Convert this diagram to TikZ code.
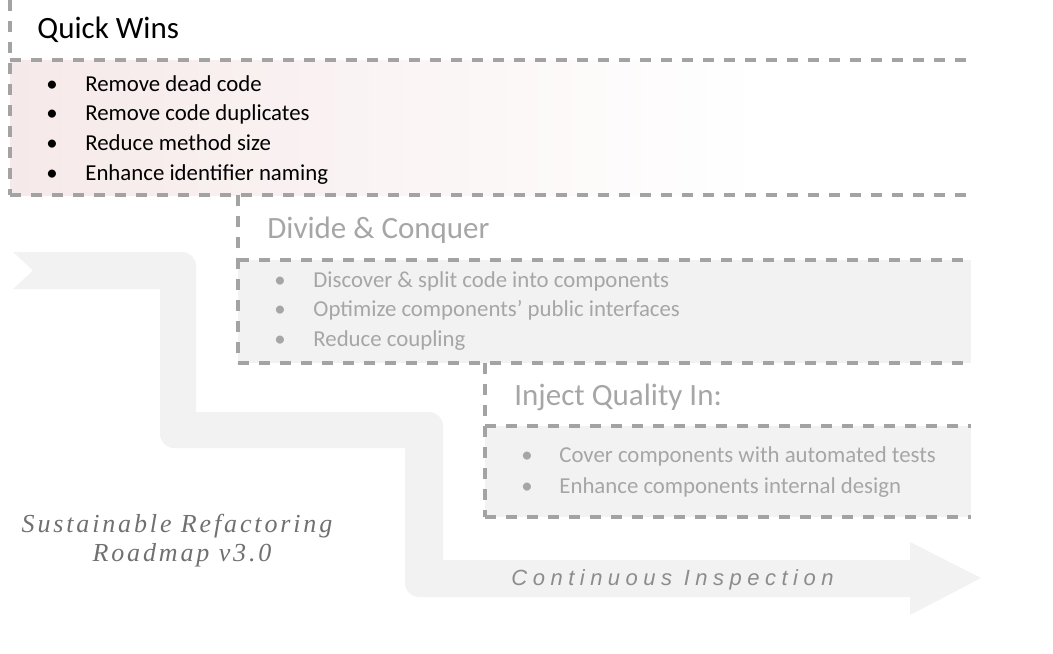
\documentclass[tikz,border=0pt]{standalone}
\usepackage{fontspec}
\setmainfont{Carlito}
\newfontfamily\roadfont[LetterSpace=11]{Liberation Serif Italic}
\newfontfamily\inspfont[LetterSpace=25]{Liberation Sans Italic}
\usepackage{tikz}
\usetikzlibrary{positioning}

\definecolor{dashgray}{HTML}{A3A3A3}
\definecolor{textgray}{HTML}{A6A6A6}
\definecolor{panelgray}{HTML}{F2F2F2}
\definecolor{qwpink}{HTML}{F6E9E9}
\definecolor{roadgray}{HTML}{707070}
\definecolor{inspgray}{HTML}{8C8C8C}

\tikzset{
  dashline/.style={draw=dashgray, line width=1.6pt, dash pattern=on 5.5pt off 5pt},
  header/.style={anchor=base west, inner sep=0pt, font=\fontsize{15.5}{18}\selectfont},
  item/.style={anchor=base west, inner sep=0pt, font=\fontsize{11.4}{14}\selectfont},
}

\begin{document}
\begin{tikzpicture}[x=0.5pt, y=-0.5pt]
    \useasboundingbox (0,0) rectangle (1053,653);

    % Draw the roadmap arrow
    \fill[panelgray] (13,252) -- (182,252) arc[start angle=-90, end angle=0, radius=14]
      -- (196,412) -- (429,412) arc[start angle=-90, end angle=0, radius=14]
      -- (443,560) -- (910,560) -- (910,542) -- (981,578) -- (910,615) -- (910,597)
      -- (419,597) arc[start angle=90, end angle=180, radius=14]
      -- (405,448) -- (174,448) arc[start angle=90, end angle=180, radius=14]
      -- (160,289) -- (13,289) -- (33,270.5) -- cycle;

    % Quick wins panel
    \shade[left color=qwpink, right color=white] (10,60) rectangle (760,195);
    \draw[dashline] (10,0) -- (10,195);
    \draw[dashline] (10,60) -- (970,60);
    \draw[dashline] (10,195) -- (971,195);
    \node[header] (qwTitle) at (37,38.5) {Quick Wins};
    \foreach \i/\y/\txt in {1/91/Remove dead code, 2/120.5/Remove code duplicates, 3/150/Reduce method size, 4/180/Enhance identifier naming} {
      \node[item] (qwDot\i) at (46,\y) {\textbullet};
      \node[item] (qwItem\i) at (85,\y) {\txt};
    }

    % Divide and conquer panel
    \fill[panelgray] (238,260) rectangle (971,363);
    \draw[dashline] (238,195) -- (238,363);
    \draw[dashline] (238,260) -- (971,260);
    \draw[dashline] (238,363) -- (971,363);
    \node[header, textgray] (dcTitle) at (267,238) {Divide \& Conquer};
    \foreach \i/\y/\txt in {1/287/Discover \& split code into components, 2/316.5/Optimize components’ public interfaces, 3/346/Reduce coupling} {
      \node[item, textgray] (dcDot\i) at (274,\y) {\textbullet};
      \node[item, textgray] (dcItem\i) at (313,\y) {\txt};
    }

    % Inject quality panel
    \fill[panelgray] (485,426) rectangle (971,517);
    \draw[dashline] (485,363) -- (485,517);
    \draw[dashline] (485,426) -- (971,426);
    \draw[dashline] (485,517) -- (971,517);
    \node[header, textgray] (iqTitle) at (514,405) {Inject Quality In:};
    \foreach \i/\y/\txt in {1/462/Cover components with automated tests, 2/493/Enhance components internal design} {
      \node[item, textgray] (iqDot\i) at (521,\y) {\textbullet};
      \node[item, textgray] (iqItem\i) at (559,\y) {\txt};
    }

    % Roadmap title and arrow label
    \node[anchor=base, inner sep=0pt, roadgray, font=\roadfont\fontsize{13}{16}\selectfont] (roadLine1) at (177,532) {Sustainable Refactoring};
    \node[anchor=base, inner sep=0pt, roadgray, font=\roadfont\fontsize{13}{16}\selectfont] (roadLine2) at (182,561) {Roadmap v3.0};
    \node[anchor=base west, inner sep=0pt, inspgray, font=\inspfont\fontsize{11}{13}\selectfont] (inspLabel) at (511,585) {Continuous Inspection};
\end{tikzpicture}
\end{document}
